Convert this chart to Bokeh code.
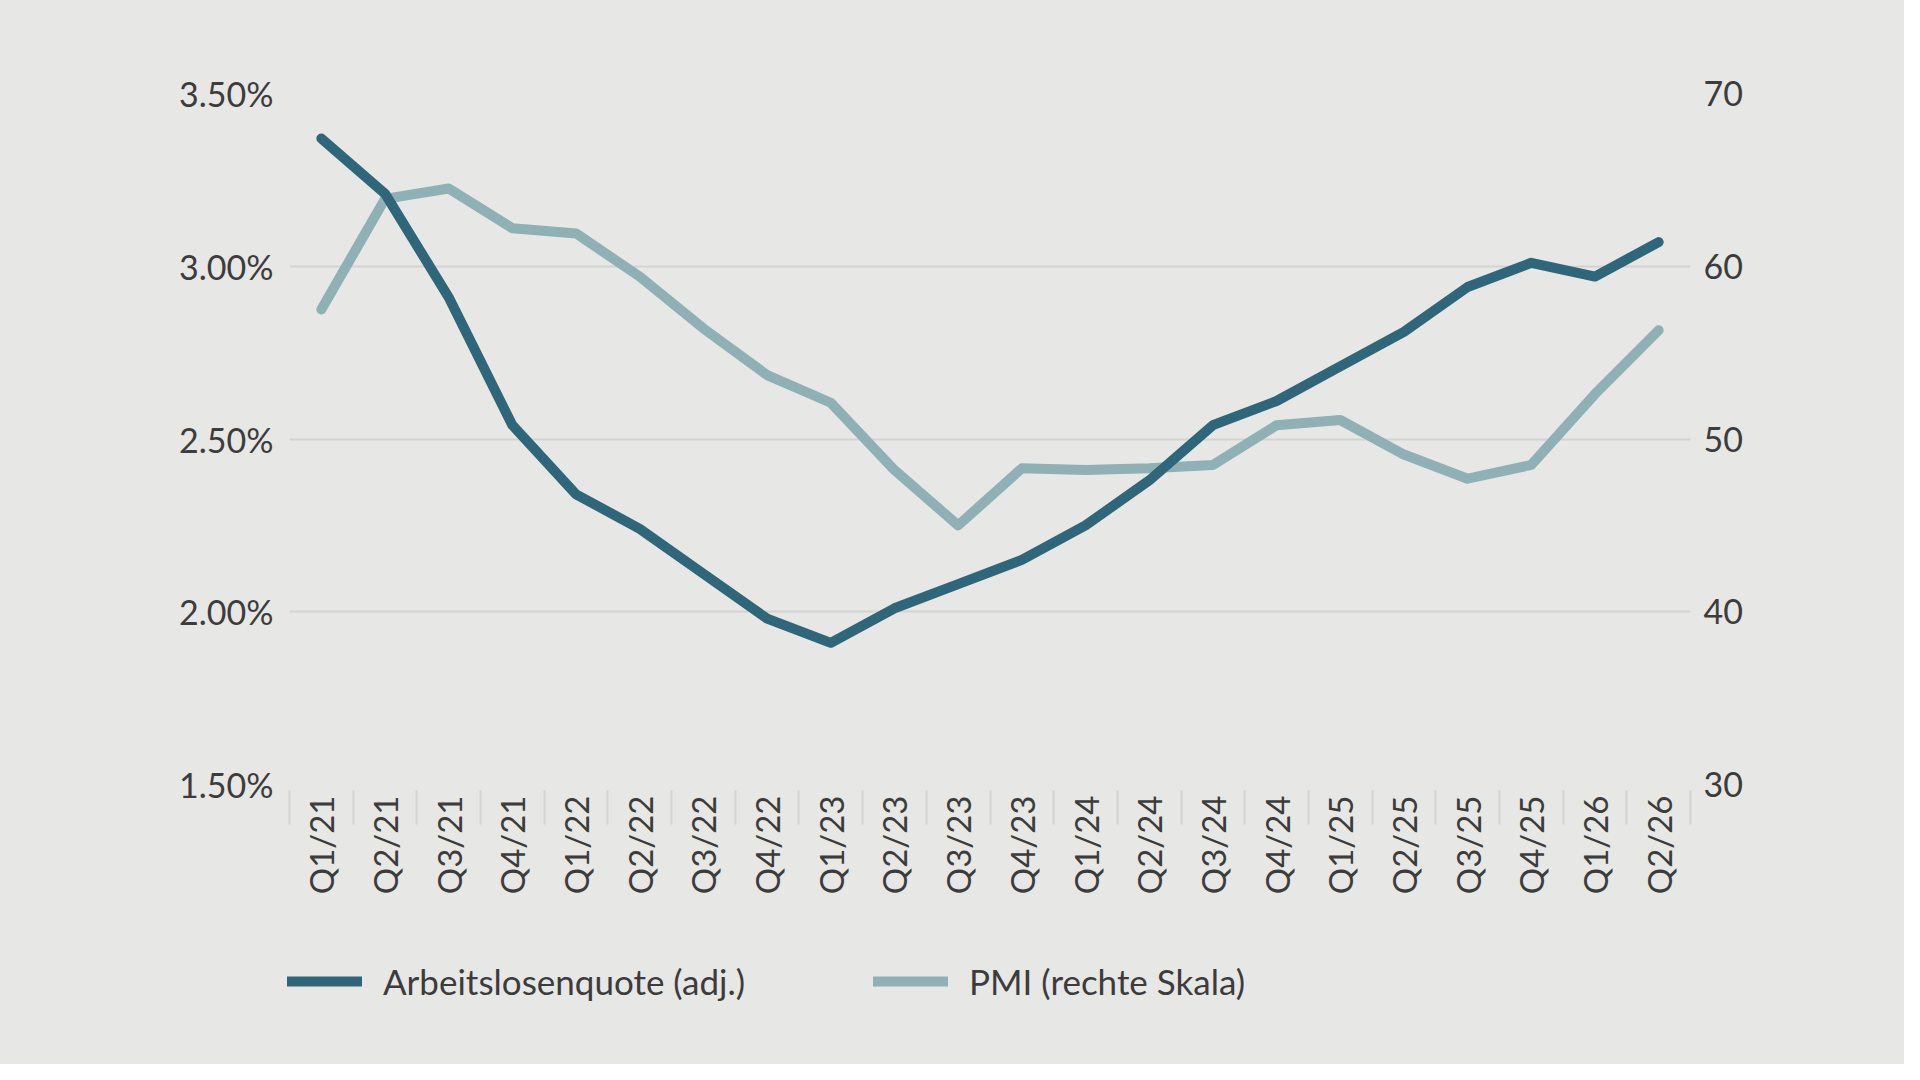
import math
from bokeh.plotting import figure
from bokeh.layouts import column
from bokeh.models import (Range1d, LinearAxis, FixedTicker, PrintfTickFormatter,
                          Legend, LegendItem, ColumnDataSource)
from bokeh.embed import file_html
from bokeh.resources import INLINE

quarters = ["Q1/21", "Q2/21", "Q3/21", "Q4/21", "Q1/22", "Q2/22", "Q3/22", "Q4/22",
            "Q1/23", "Q2/23", "Q3/23", "Q4/23", "Q1/24", "Q2/24", "Q3/24", "Q4/24",
            "Q1/25", "Q2/25", "Q3/25", "Q4/25", "Q1/26", "Q2/26"]
arbeitslosenquote = [3.37, 3.21, 2.91, 2.54, 2.34, 2.24, 2.11, 1.98,
                     1.91, 2.01, 2.08, 2.15, 2.25, 2.38, 2.54, 2.61,
                     2.71, 2.81, 2.94, 3.01, 2.97, 3.07]
pmi = [57.5, 63.9, 64.5, 62.2, 61.9, 59.4, 56.4, 53.7,
       52.1, 48.2, 45.0, 48.3, 48.2, 48.3, 48.5, 50.8,
       51.1, 49.1, 47.7, 48.5, 52.6, 56.3]
left_ticks = [1.5, 2.0, 2.5, 3.0, 3.5]
right_ticks = [30, 40, 50, 60, 70]
label_a = "Arbeitslosenquote (adj.)"
label_b = "PMI (rechte Skala)"

BG = "#e7e7e5"
DARK = "#2f6679"
LIGHT = "#8fb1b5"
GRID = "#d3d3d1"
TXT = "#3c3c3c"
FONT = "Lato"

W = 1904
H_MAIN = 930
H_LEG = 134

idx = list(range(len(quarters)))
src = ColumnDataSource(dict(x=idx, a=arbeitslosenquote, b=pmi))

p = figure(width=W, height=H_MAIN, output_backend="svg", toolbar_location=None,
           x_range=Range1d(-0.5, len(quarters) - 0.5), y_range=Range1d(1.5, 3.5))
p.frame_align = False
p.min_border_left = 289
p.min_border_right = 214
p.min_border_top = 93
p.min_border_bottom = H_MAIN - 784
p.background_fill_color = BG
p.border_fill_color = BG
p.outline_line_color = None
p.extra_y_ranges = {"pmi": Range1d(30, 70)}

# x axis
xa = p.xaxis[0]
xa.ticker = FixedTicker(ticks=idx, minor_ticks=[i - 0.5 for i in range(len(quarters) + 1)])
xa.major_label_overrides = {i: q for i, q in enumerate(quarters)}
xa.major_label_orientation = math.pi / 2
xa.axis_line_color = None
xa.major_tick_line_color = None
xa.major_tick_out = 0
xa.major_tick_in = 0
xa.minor_tick_line_color = GRID
xa.minor_tick_line_width = 2
xa.minor_tick_out = 40
xa.minor_tick_in = -6
xa.major_label_standoff = -29
xa.major_label_text_font = FONT
xa.major_label_text_font_size = "33px"
xa.major_label_text_color = TXT

# left axis
ya = p.yaxis[0]
ya.ticker = FixedTicker(ticks=left_ticks)
ya.formatter = PrintfTickFormatter(format="%.2f%%")
ya.axis_line_color = None
ya.major_tick_line_color = None
ya.minor_tick_line_color = None
ya.major_tick_out = 0
ya.major_label_standoff = 16
ya.major_label_text_font = FONT
ya.major_label_text_font_size = "34px"
ya.major_label_text_color = TXT

# right axis
ra = LinearAxis(y_range_name="pmi", ticker=FixedTicker(ticks=right_ticks))
ra.axis_line_color = None
ra.major_tick_line_color = None
ra.minor_tick_line_color = None
ra.major_tick_out = 0
ra.major_label_standoff = 13
ra.major_label_text_font = FONT
ra.major_label_text_font_size = "34px"
ra.major_label_text_color = TXT
p.add_layout(ra, "right")

p.xgrid.grid_line_color = None
p.ygrid.grid_line_color = GRID
p.ygrid.grid_line_width = 2
p.ygrid.ticker = FixedTicker(ticks=left_ticks)

p.line("x", "b", source=src, y_range_name="pmi", line_color=LIGHT, line_width=10,
       line_join="round", line_cap="round")
p.line("x", "a", source=src, line_color=DARK, line_width=10,
       line_join="round", line_cap="round")

# legend strip below the chart (its sample lines lie outside its visible range)
lg = figure(width=W, height=H_LEG, output_backend="svg", toolbar_location=None,
            x_range=Range1d(0, W), y_range=Range1d(0, H_LEG),
            x_axis_location=None, y_axis_location=None, min_border=0)
lg.frame_align = False
lg.background_fill_color = BG
lg.border_fill_color = BG
lg.outline_line_color = None
lg.grid.visible = False
la = lg.line(x=[-20, -10], y=[-20, -20], line_color=DARK, line_width=10, line_cap="round")
lb = lg.line(x=[-20, -10], y=[-20, -20], line_color=LIGHT, line_width=10, line_cap="round")

legend = Legend(items=[LegendItem(label=label_a, renderers=[la]),
                       LegendItem(label=label_b, renderers=[lb])],
                orientation="horizontal", location=(287, 62))
legend.background_fill_alpha = 0
legend.border_line_color = None
legend.padding = 0
legend.margin = 0
legend.spacing = 128
legend.glyph_width = 75
legend.glyph_height = 40
legend.label_height = 40
legend.label_standoff = 21
legend.label_text_font = FONT
legend.label_text_font_size = "35px"
legend.label_text_color = TXT
legend.label_text_baseline = "middle"
lg.add_layout(legend, "center")

layout = column(p, lg, spacing=0, background=BG)
open("out.html", "w").write(file_html(layout, INLINE))
